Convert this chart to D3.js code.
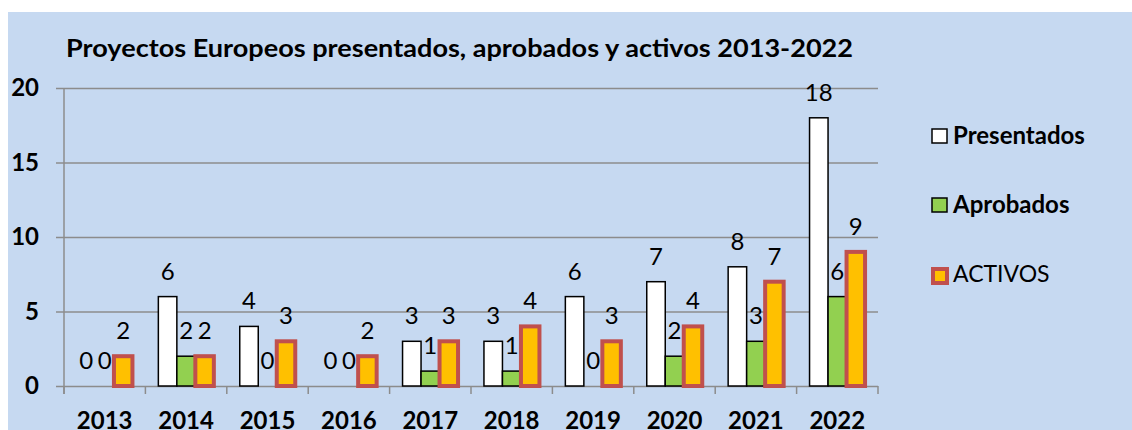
<!DOCTYPE html>
<html>
<head>
<meta charset="utf-8">
<script src="https://cdn.jsdelivr.net/npm/d3@7"></script>
<style>
    body { margin: 0; background: #ffffff; }
    svg { display: block; font-family: Lato, "Open Sans", sans-serif; }
</style>
</head>
<body>
<div class="chart"></div>
<script>
// data
var years = ["2013", "2014", "2015", "2016", "2017", "2018", "2019", "2020", "2021", "2022"];
var presentados = [0, 6, 4, 0, 3, 3, 6, 7, 8, 18];
var aprobados = [0, 2, 0, 0, 1, 1, 0, 2, 3, 6];
var activos = [2, 2, 3, 2, 3, 4, 3, 4, 7, 9];
var seriesNames = ["Presentados", "Aprobados", "ACTIVOS"];
var yTicks = [0, 5, 10, 15, 20];
var title = "Proyectos Europeos presentados, aprobados y activos 2013-2022";

var width = 1132, height = 430;
var plotLeft = 64, plotRight = 878, plotTop = 88, plotBottom = 386;

var series = [
    {name: seriesNames[0], values: presentados, fill: "#ffffff", stroke: "#000000", sw: 1.5, bold: true},
    {name: seriesNames[1], values: aprobados, fill: "#92d050", stroke: "#000000", sw: 1.5, bold: true},
    {name: seriesNames[2], values: activos, fill: "#ffc000", stroke: "#c0504d", sw: 4, bold: false}
];

var svg = d3.select(".chart")
    .append("svg")
    .attr("width", width)
    .attr("height", height);

// chart area background
svg.append("rect")
    .attr("x", 8)
    .attr("y", 12)
    .attr("width", width - 8)
    .attr("height", height - 12)
    .attr("fill", "#c6d9f1");

var x0 = d3.scaleBand()
    .domain(years)
    .range([plotLeft, plotRight])
    .paddingInner(0)
    .paddingOuter(0);

var x1 = d3.scaleBand()
    .domain(seriesNames)
    .range([0, x0.bandwidth()])
    .paddingInner(0)
    .paddingOuter(0.7);

var y = d3.scaleLinear()
    .domain([0, 20])
    .range([plotBottom, plotTop]);

// gridlines + y labels
var gy = svg.append("g")
    .attr("transform", "translate(" + plotRight + ",0)");
gy.call(d3.axisLeft(y)
    .tickValues(yTicks)
    .tickSize(plotRight - plotLeft + 8)
    .tickPadding(17)
    .tickFormat(d3.format("d")));
gy.select(".domain").remove();
gy.selectAll(".tick line")
    .attr("stroke", "#8c8c8c")
    .attr("stroke-width", 1.5);
gy.selectAll(".tick text")
    .attr("fill", "#000")
    .style("font-family", "Lato, sans-serif")
    .style("font-size", "24px")
    .style("font-weight", "bold");

// vertical axis line
svg.append("line")
    .attr("x1", plotLeft)
    .attr("x2", plotLeft)
    .attr("y1", plotTop)
    .attr("y2", plotBottom + 8)
    .attr("stroke", "#8c8c8c")
    .attr("stroke-width", 1.5);

// x axis ticks at category boundaries
var boundaries = years.map(function(d){ return x0(d); }).concat([plotRight]);
svg.append("g")
    .selectAll("line")
    .data(boundaries)
    .enter()
    .append("line")
    .attr("x1", function(d){ return d; })
    .attr("x2", function(d){ return d; })
    .attr("y1", plotBottom)
    .attr("y2", plotBottom + 8)
    .attr("stroke", "#8c8c8c")
    .attr("stroke-width", 1.5);

svg.append("g")
    .selectAll("text")
    .data(years)
    .enter()
    .append("text")
    .attr("x", function(d){ return x0(d) + x0.bandwidth() / 2; })
    .attr("y", 429)
    .attr("text-anchor", "middle")
    .style("font-size", "24px")
    .style("font-weight", "bold")
    .text(function(d){ return d; });

// bars
var groups = svg.append("g")
    .selectAll("g")
    .data(years)
    .enter()
    .append("g")
    .attr("transform", function(d){ return "translate(" + x0(d) + ",0)"; });

groups.selectAll("rect")
    .data(function(d, i){
        return series.map(function(s){ return {s: s, v: s.values[i]}; })
            .filter(function(e){ return e.v > 0; });
    })
    .enter()
    .append("rect")
    .attr("x", function(d){ return x1(d.s.name); })
    .attr("y", function(d){ return y(d.v); })
    .attr("width", x1.bandwidth())
    .attr("height", function(d){ return plotBottom - y(d.v); })
    .attr("fill", function(d){ return d.s.fill; })
    .attr("stroke", function(d){ return d.s.stroke; })
    .attr("stroke-width", function(d){ return d.s.sw; });

// data labels
groups.selectAll("text")
    .data(function(d, i){
        return series.map(function(s){ return {s: s, v: s.values[i]}; });
    })
    .enter()
    .append("text")
    .attr("x", function(d){ return x1(d.s.name) + x1.bandwidth() / 2; })
    .attr("y", function(d){ return y(d.v) - 17; })
    .attr("text-anchor", "middle")
    .style("font-size", "24px")
    .text(function(d){ return d.v; });

// title
svg.append("text")
    .attr("x", 66)
    .attr("y", 57)
    .attr("textLength", 787)
    .attr("lengthAdjust", "spacingAndGlyphs")
    .style("font-size", "24px")
    .style("font-weight", "bold")
    .text(title);

// legend
var legend = svg.append("g")
    .selectAll("g")
    .data(series)
    .enter()
    .append("g")
    .attr("transform", function(d, i){ return "translate(932," + (129 + i * 69) + ")"; });

legend.append("rect")
    .attr("x", function(d){ return d.sw > 2 ? 1 : 0; })
    .attr("y", function(d){ return d.sw > 2 ? 2 : 0; })
    .attr("width", function(d){ return d.sw > 2 ? 14 : 15; })
    .attr("height", 14)
    .attr("fill", function(d){ return d.fill; })
    .attr("stroke", function(d){ return d.stroke; })
    .attr("stroke-width", function(d){ return d.sw; });

legend.append("text")
    .attr("x", 21)
    .attr("y", 15)
    .style("font-size", function(d){ return d.bold ? "24px" : "23px"; })
    .style("font-weight", function(d){ return d.bold ? "bold" : "normal"; })
    .text(function(d){ return d.name; });
</script>
</body>
</html>
